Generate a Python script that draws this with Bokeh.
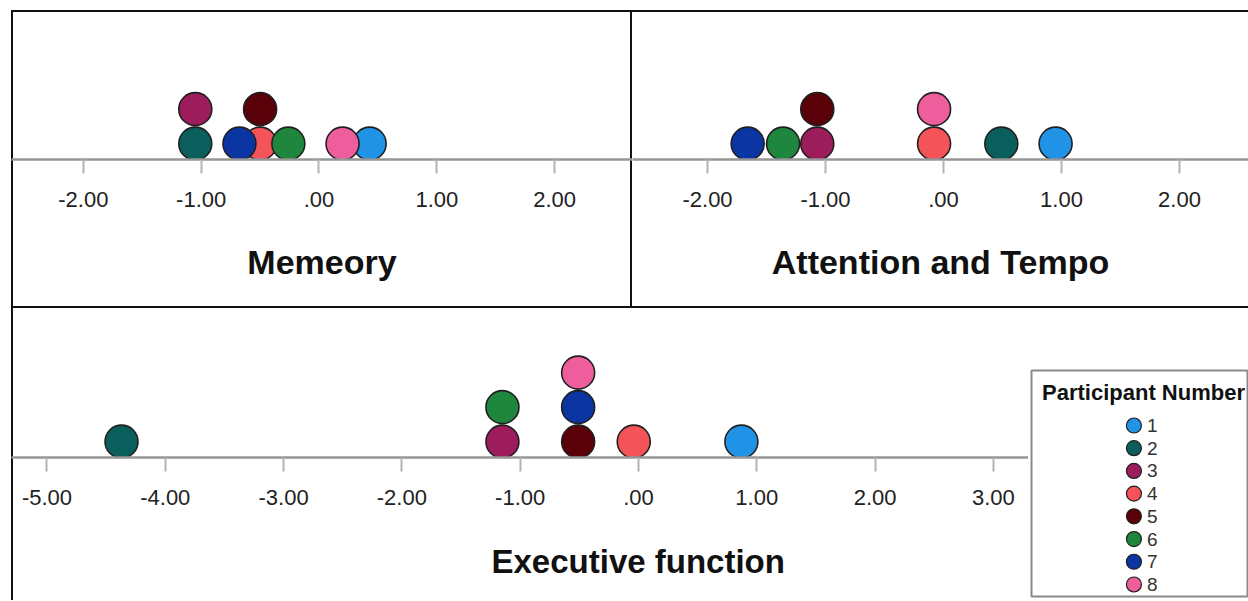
from bokeh.plotting import figure
from bokeh.layouts import column, row
from bokeh.models import (FixedTicker, ColumnDataSource, Title, Range1d, Label)
from bokeh.embed import file_html
from bokeh.resources import INLINE

# ---------------- data ----------------
participants = ["1", "2", "3", "4", "5", "6", "7", "8"]
participant_index = [1, 2, 3, 4, 5, 6, 7, 8]
participant_colors = ["#2193e6", "#0a5f5c", "#9c1c5c", "#f5535a",
                      "#5a0009", "#1f873d", "#0b35a3", "#ee5d9c"]
legend_title = "Participant Number"

memory = [0.43, -1.05, -1.05, -0.50, -0.50, -0.26, -0.675, 0.20]
memory_stack = [1, 1, 2, 1, 2, 1, 1, 1]

attention = [0.95, 0.49, -1.07, -0.08, -1.07, -1.36, -1.66, -0.08]
attention_stack = [1, 1, 1, 1, 2, 1, 1, 2]

executive = [0.87, -4.37, -1.15, -0.04, -0.51, -1.15, -0.51, -0.51]
executive_stack = [1, 1, 1, 1, 1, 2, 2, 3]

top_ticks = [-2, -1, 0, 1, 2]
top_tick_labels = ["-2.00", "-1.00", ".00", "1.00", "2.00"]
bottom_ticks = [-5, -4, -3, -2, -1, 0, 1, 2, 3]
bottom_tick_labels = ["-5.00", "-4.00", "-3.00", "-2.00", "-1.00", ".00",
                      "1.00", "2.00", "3.00"]

FONT = "Liberation Sans"
EDGE = "#111111"
FRAME_H = 149


def make_panel(values, stack, width, height, x_range, ticks, tick_labels,
               label, label_size, shadow, use_axis_label=True):
    p = figure(width=width, height=height, output_backend="svg",
               toolbar_location=None, title=None, y_axis_location=None,
               x_range=Range1d(*x_range),
               y_range=Range1d(0.54, 0.54 + FRAME_H / 34.5),
               min_border_left=0, min_border_right=0,
               min_border_top=0, min_border_bottom=height - FRAME_H)
    p.frame_align = False
    p.border_fill_color = None
    p.background_fill_color = None
    p.outline_line_color = None
    p.xgrid.visible = False
    p.ygrid.visible = False
    p.styles = {"box-shadow": shadow}

    src = ColumnDataSource(dict(x=values, y=stack, color=participant_colors,
                                name=participants))
    p.scatter(x="x", y="y", size=33, fill_color="color",
              line_color="#202020", line_width=1.6, source=src)

    ax = p.xaxis[0]
    ax.ticker = FixedTicker(ticks=ticks, minor_ticks=[])
    ax.major_label_overrides = {t: s for t, s in zip(ticks, tick_labels)}
    ax.axis_line_color = "#969696"
    ax.axis_line_width = 2.5
    ax.major_tick_line_color = "#b4b4b4"
    ax.major_tick_line_width = 2
    ax.major_tick_in = 0
    ax.major_tick_out = 14
    ax.minor_tick_line_color = None
    ax.major_label_standoff = 18
    ax.major_label_text_font = FONT
    ax.major_label_text_font_size = "22px"
    ax.major_label_text_color = "#222222"
    if use_axis_label:
        ax.axis_label = label
        ax.axis_label_text_font = FONT
        ax.axis_label_text_font_size = label_size
        ax.axis_label_text_font_style = "bold"
        ax.axis_label_text_color = "#111111"
        ax.axis_label_standoff = 33
    return p


pA = make_panel(memory, memory_stack, 621, 298, (-2.610, 2.661),
                top_ticks, top_tick_labels, "Memeory", "34px",
                f"inset 2px 0 0 0 {EDGE}, inset -2px 0 0 0 {EDGE}, "
                f"inset 0 2px 0 0 {EDGE}, inset 0 -2px 0 0 {EDGE}")
pB = make_panel(attention, attention_stack, 616, 298, (-2.636, 2.585),
                top_ticks, top_tick_labels, "Attention and Tempo", "34px",
                f"inset 0 2px 0 0 {EDGE}, inset 0 -2px 0 0 {EDGE}")
pC = make_panel(executive, executive_stack, 1017, 292, (-5.30, 3.297),
                bottom_ticks, bottom_tick_labels, "Executive function",
                "33px", f"inset 2px 0 0 0 {EDGE}", use_axis_label=False)

ttl = Title(text="Executive function", align="left", offset=480,
            text_font=FONT, text_font_size="33px", text_font_style="bold",
            text_color="#111111", standoff=0,
            padding=dict(top=33, right=0, bottom=0, left=0))
pC.add_layout(ttl, "below")

# ---------------- legend panel ----------------
pL = figure(width=220, height=292, output_backend="svg",
            toolbar_location=None, title=None,
            x_axis_location=None, y_axis_location=None,
            x_range=Range1d(0, 1), y_range=Range1d(8.529, -1.422),
            min_border_left=3, min_border_right=0,
            min_border_top=62, min_border_bottom=4)
pL.frame_align = False
pL.border_fill_color = None
pL.background_fill_color = "white"
pL.outline_line_color = "#8a8a8a"
pL.outline_line_width = 2
pL.xgrid.visible = False
pL.ygrid.visible = False

lsrc = ColumnDataSource(dict(y=participant_index, color=participant_colors,
                             label=participants))
pL.scatter(x=0.472, y="y", size=15, fill_color="color", line_color="#202020",
           line_width=1.2, source=lsrc)
pL.text(x=0.532, y="y", text="label", source=lsrc, text_font_size="19px",
        text_color="#333333", text_baseline="middle", text_align="left",
        text_font={"value": FONT})
pL.add_layout(Label(x=0.516, y=-0.453, text=legend_title,
                    text_font=FONT, text_font_size="22px",
                    text_font_style="bold", text_color="#111111",
                    text_align="center", text_baseline="middle"))

layout = column(row(pA, pB), row(pC, pL), margin=(10, 0, 0, 11))

open("out.html", "w").write(file_html(layout, INLINE))
